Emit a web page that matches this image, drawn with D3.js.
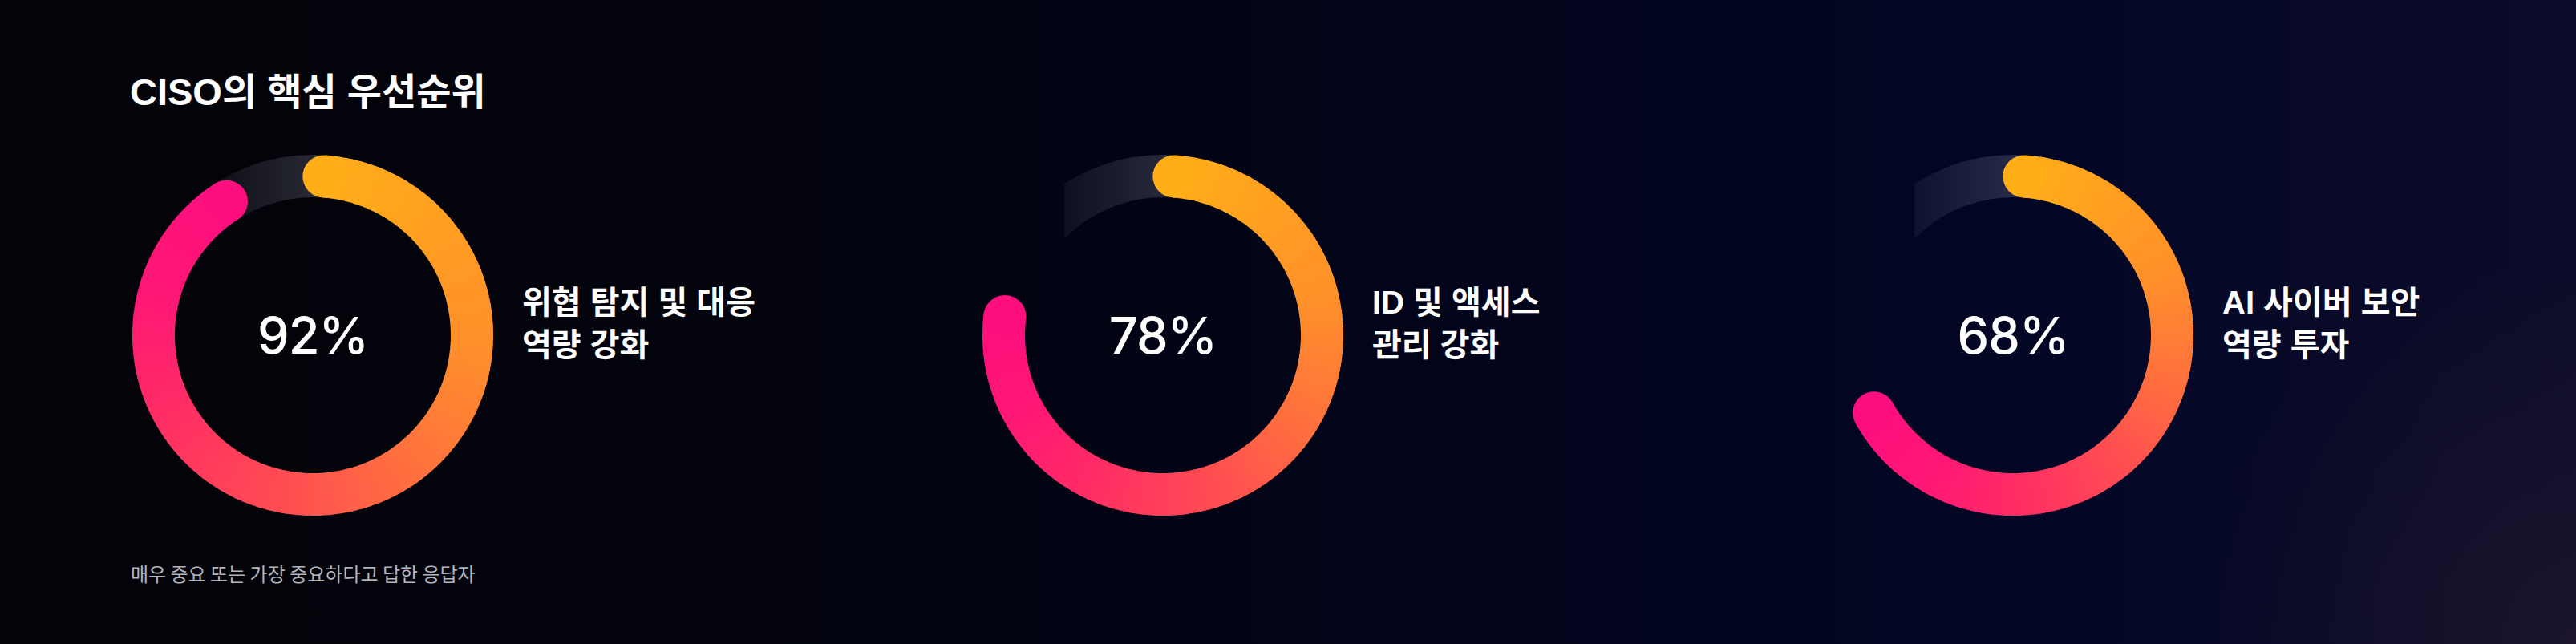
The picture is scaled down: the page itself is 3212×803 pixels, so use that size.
<!DOCTYPE html>
<html>
<head>
<meta charset="utf-8">
<script src="https://cdn.jsdelivr.net/npm/d3@7"></script>
<style>
  body { margin: 0; background: #030308; }
  svg { display: block; }
</style>
</head>
<body>
<svg id="chart" width="3212" height="803"></svg>
<script>
// chart data
let title = "CISO의 핵심 우선순위";
let footnote = "매우 중요 또는 가장 중요하다고 답한 응답자";
let values = [92, 78, 68];
let label_lines = [["위협 탐지 및 대응", "역량 강화"], ["ID 및 액세스", "관리 강화"], ["AI 사이버 보안", "역량 투자"]];

let width = 3212, height = 803;
let center_y = 418, r_outer = 225, r_inner = 172;
let r_mid = (r_outer + r_inner) / 2, cap_r = (r_outer - r_inner) / 2;
let cap_inset = 4 * Math.PI / 180;
let latin_kr = "'Liberation Sans', 'Noto Sans CJK KR', sans-serif";

let svg = d3.select('#chart');
let defs = svg.append('defs');

// background
let bg = defs.append('linearGradient').attr('id', 'bg').attr('x1', 0).attr('x2', 1).attr('y1', 0).attr('y2', 0);
[[0, '#030308'], [0.3, '#03040e'], [0.55, '#02041a'], [0.8, '#030725'], [1, '#0c0c2a']].forEach(function (s) {
    bg.append('stop').attr('offset', s[0]).attr('stop-color', s[1]);
});
let glow = defs.append('radialGradient').attr('id', 'glow').attr('gradientUnits', 'userSpaceOnUse')
    .attr('cx', width).attr('cy', height).attr('r', 480);
glow.append('stop').attr('offset', 0).attr('stop-color', '#22182e').attr('stop-opacity', 0.7);
glow.append('stop').attr('offset', 1).attr('stop-color', '#22182e').attr('stop-opacity', 0);

svg.append('rect').attr('width', width).attr('height', height).attr('fill', 'url(#bg)');
svg.append('rect').attr('width', width).attr('height', height).attr('fill', 'url(#glow)');

let x = d3.scaleLinear().domain([0, values.length - 1]).range([390, 2510]);
let angle = d3.scaleLinear().domain([0, 100]).range([0, 2 * Math.PI]);
let color = d3.scaleLinear()
    .domain([0, 0.27, 0.45, 0.56, 0.73, 0.86, 1])
    .range(['#ffae18', '#ff902a', '#ff6c40', '#ff5150', '#ff2e64', '#ff1874', '#ff0e7e'])
    .interpolate(d3.interpolateRgb);

let arc = d3.arc().innerRadius(r_inner).outerRadius(r_outer);

values.forEach(function (v, i) {
    let cx = x(i);
    let g = svg.append('g').attr('transform', 'translate(' + cx + ',' + center_y + ')');

    // faded track near the gap
    let tg = defs.append('linearGradient').attr('id', 'track' + i).attr('gradientUnits', 'userSpaceOnUse')
        .attr('x1', -123).attr('x2', 0).attr('y1', 0).attr('y2', 0);
    tg.append('stop').attr('offset', 0).attr('stop-color', '#c8cce8').attr('stop-opacity', 0.06);
    tg.append('stop').attr('offset', 1).attr('stop-color', '#c8cce8').attr('stop-opacity', 0.18);
    defs.append('clipPath').attr('id', 'clip' + i)
        .append('rect').attr('x', -123).attr('y', -r_outer - 2).attr('width', 123 + r_outer).attr('height', r_outer);
    g.append('path')
        .attr('d', arc({ startAngle: -Math.PI / 2, endAngle: 0.05 }))
        .attr('fill', 'url(#track' + i + ')')
        .attr('clip-path', 'url(#clip' + i + ')');

    // value arc drawn as small pieces so the colour runs along it
    let a0 = angle(0) + cap_inset, a1 = angle(v) - cap_inset;
    let n = 200;
    let pieces = d3.range(n).map(function (k) {
        return { startAngle: a0 + (a1 - a0) * k / n, endAngle: a0 + (a1 - a0) * (k + 1) / n + 0.006, t: (k + 0.5) / n };
    });
    g.selectAll('path.piece')
        .data(pieces)
        .join('path')
        .attr('class', 'piece')
        .attr('d', arc)
        .attr('fill', function (d) { return color(d.t); });

    let caps = [{ a: a0, t: 0 }, { a: a1, t: 1 }];
    g.selectAll('circle.cap')
        .data(caps)
        .join('circle')
        .attr('class', 'cap')
        .attr('cx', function (d) { return r_mid * Math.sin(d.a); })
        .attr('cy', function (d) { return -r_mid * Math.cos(d.a); })
        .attr('r', cap_r)
        .attr('fill', function (d) { return color(d.t); });

    g.append('text')
        .attr('x', 0).attr('y', 23)
        .attr('text-anchor', 'middle')
        .attr('fill', '#ffffff')
        .style('font-family', "Inter, 'Liberation Sans', sans-serif")
        .style('font-weight', 500)
        .style('font-size', '63px')
        .style('letter-spacing', '-1px')
        .text(v + '%');

    g.selectAll('text.label')
        .data(label_lines[i])
        .join('text')
        .attr('class', 'label')
        .attr('x', 261)
        .attr('y', function (d, k) { return -27 + k * 53; })
        .attr('fill', '#ffffff')
        .style('font-family', latin_kr)
        .style('font-weight', 700)
        .style('font-size', '40px')
        .text(function (d) { return d; });
});

svg.append('text')
    .attr('x', 162).attr('y', 131)
    .attr('fill', '#ffffff')
    .style('font-family', latin_kr)
    .style('font-weight', 700)
    .style('font-size', '47px')
    .text(title);

svg.append('text')
    .attr('x', 163).attr('y', 725)
    .attr('fill', '#b4b4bc')
    .style('font-family', "'Noto Sans CJK KR', sans-serif")
    .style('font-size', '24px')
    .text(footnote);
</script>
</body>
</html>
